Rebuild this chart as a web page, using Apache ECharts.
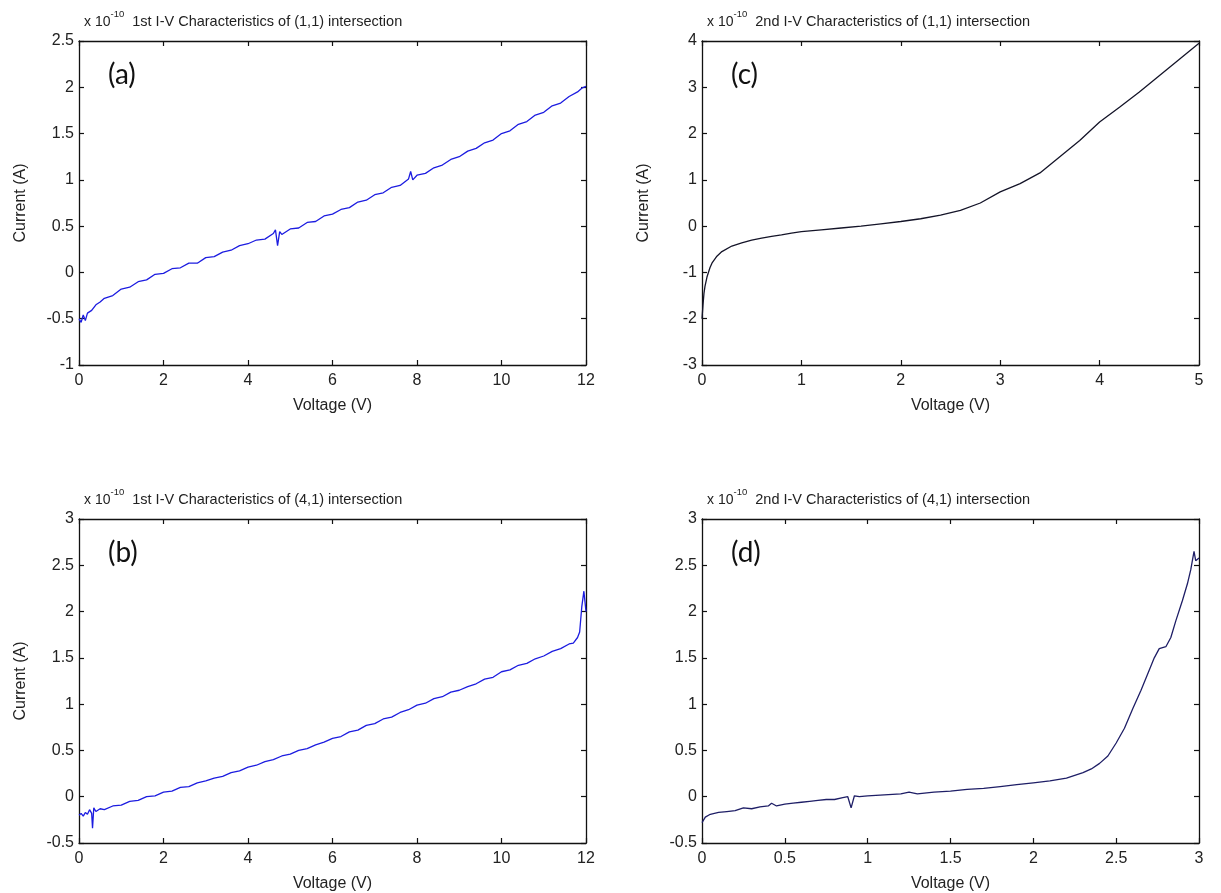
<!DOCTYPE html>
<html>
<head>
<meta charset="utf-8">
<script src="https://cdn.jsdelivr.net/npm/echarts@6/dist/echarts.min.js"></script>
<style>
html,body{margin:0;padding:0;background:#fff;}
#chart{width:1221px;height:893px;}
</style>
</head>
<body>
<div id="chart"></div>
<script>
// ---- Data (current in units of 1e-10 A) ----
const aV = [0,0.05,0.1,0.15,0.2,0.3,0.4,0.5,0.6,0.8,1,1.2,1.4,1.6,1.8,2,2.2,2.4,2.6,2.8,3,3.2,3.4,3.6,3.8,4,4.2,4.4,4.6,4.65,4.7,4.75,4.8,5,5.2,5.4,5.6,5.8,6,6.2,6.4,6.6,6.8,7,7.2,7.4,7.6,7.8,7.85,7.9,8,8.2,8.4,8.6,8.8,9,9.2,9.4,9.6,9.8,10,10.2,10.4,10.6,10.8,11,11.2,11.4,11.6,11.8,11.9,12];
const aI = [-0.50,-0.54,-0.46,-0.52,-0.44,-0.41,-0.35,-0.32,-0.28,-0.25,-0.18,-0.16,-0.10,-0.08,-0.02,-0.01,0.04,0.05,0.10,0.10,0.16,0.17,0.22,0.24,0.29,0.31,0.35,0.36,0.42,0.46,0.29,0.44,0.41,0.47,0.48,0.54,0.55,0.61,0.63,0.68,0.70,0.76,0.78,0.84,0.86,0.92,0.94,1.01,1.09,1.00,1.05,1.07,1.13,1.16,1.22,1.25,1.31,1.34,1.40,1.43,1.50,1.53,1.60,1.63,1.70,1.73,1.80,1.83,1.90,1.95,1.99,2.01];

const bV = [0,0.05,0.1,0.15,0.2,0.25,0.3,0.32,0.35,0.4,0.5,0.6,0.8,1,1.2,1.4,1.6,1.8,2,2.2,2.4,2.6,2.8,3,3.2,3.4,3.6,3.8,4,4.2,4.4,4.6,4.8,5,5.2,5.4,5.6,5.8,6,6.2,6.4,6.6,6.8,7,7.2,7.4,7.6,7.8,8,8.2,8.4,8.6,8.8,9,9.2,9.4,9.6,9.8,10,10.2,10.4,10.6,10.8,11,11.2,11.4,11.6,11.7,11.8,11.85,11.9,11.95,12];
const bI = [-0.20,-0.18,-0.21,-0.17,-0.19,-0.14,-0.18,-0.34,-0.12,-0.16,-0.13,-0.14,-0.10,-0.09,-0.05,-0.04,0.00,0.01,0.05,0.06,0.10,0.11,0.15,0.17,0.20,0.22,0.26,0.28,0.32,0.34,0.38,0.40,0.44,0.46,0.50,0.52,0.56,0.59,0.63,0.65,0.70,0.72,0.77,0.79,0.84,0.86,0.91,0.94,0.99,1.01,1.06,1.08,1.13,1.15,1.19,1.22,1.27,1.29,1.35,1.37,1.42,1.44,1.49,1.52,1.57,1.60,1.65,1.66,1.72,1.78,2.05,2.22,2.00];

const cV = [0,0.01,0.02,0.03,0.05,0.08,0.1,0.15,0.2,0.3,0.4,0.5,0.6,0.7,0.8,0.9,1,1.2,1.4,1.6,1.8,2,2.2,2.4,2.6,2.8,3,3.2,3.4,3.6,3.8,4,4.2,4.4,4.6,4.8,5];
const cI = [-2.0,-1.7,-1.45,-1.3,-1.1,-0.9,-0.8,-0.65,-0.55,-0.43,-0.36,-0.3,-0.26,-0.22,-0.19,-0.15,-0.12,-0.08,-0.04,0.0,0.05,0.1,0.16,0.24,0.34,0.5,0.74,0.92,1.15,1.5,1.85,2.25,2.57,2.9,3.25,3.6,3.95];

const dV = [0,0.02,0.05,0.1,0.15,0.2,0.25,0.3,0.35,0.4,0.42,0.45,0.5,0.55,0.6,0.65,0.7,0.75,0.8,0.85,0.88,0.9,0.92,0.95,1,1.1,1.2,1.25,1.3,1.4,1.5,1.6,1.7,1.8,1.9,2,2.1,2.2,2.3,2.35,2.4,2.45,2.5,2.55,2.6,2.65,2.7,2.73,2.76,2.8,2.83,2.86,2.9,2.93,2.95,2.97,2.98,3];
const dI = [-0.28,-0.22,-0.19,-0.17,-0.16,-0.15,-0.12,-0.13,-0.11,-0.10,-0.07,-0.10,-0.08,-0.07,-0.06,-0.05,-0.04,-0.03,-0.03,-0.01,0.00,-0.12,0.01,0.00,0.01,0.02,0.03,0.05,0.03,0.05,0.06,0.08,0.09,0.11,0.13,0.15,0.17,0.20,0.26,0.30,0.36,0.44,0.58,0.74,0.95,1.15,1.37,1.50,1.60,1.62,1.72,1.90,2.12,2.30,2.45,2.65,2.55,2.58];

const titles = [
  '1st I-V Characteristics of (1,1) intersection',
  '2nd I-V Characteristics of (1,1) intersection',
  '1st I-V Characteristics of (4,1) intersection',
  '2nd I-V Characteristics of (4,1) intersection'
];
const panelTags = ['(a)', '(c)', '(b)', '(d)'];

// x ranges, y ranges per panel (a, c, b, d)
const xRanges = [[0, 12, 2], [0, 5, 1], [0, 12, 2], [0, 3, 0.5]];
const yRanges = [[-1, 2.5, 0.5], [-3, 4, 1], [-0.5, 3, 0.5], [-0.5, 3, 0.5]];
const yNames = ['Current (A)', 'Current (A)', 'Current (A)', ''];
const xName = 'Voltage (V)';

// ---- Layout ----
const grids = [
  {left: 79, top: 41, width: 507, height: 324},
  {left: 702, top: 41, width: 497, height: 324},
  {left: 79, top: 519, width: 507, height: 324},
  {left: 702, top: 519, width: 497, height: 324}
];
const seriesData = [[aV, aI], [cV, cI], [bV, bI], [dV, dI]];
const lineColors = ['#1c1ce0', '#141428', '#1c1ce0', '#1e1e66'];

const FONT = 'Liberation Sans, Arial, sans-serif';
const FS = 16;
const axisLine = {show: true, onZero: false, lineStyle: {color: '#111', width: 1.3}};
const axisTick = {show: true, inside: true, length: 5, lineStyle: {color: '#111', width: 1.2}};

const xAxis = [], yAxis = [], series = [], title = [];
grids.forEach((g, i) => {
  const [xmin, xmax, xint] = xRanges[i];
  const [ymin, ymax, yint] = yRanges[i];
  xAxis.push({
    type: 'value', gridIndex: i, position: 'bottom', min: xmin, max: xmax, interval: xint,
    axisLine, axisTick, splitLine: {show: false},
    axisLabel: {color: '#222', fontSize: FS, fontFamily: FONT, margin: 8, showMinLabel: true, showMaxLabel: true},
    name: xName, nameLocation: 'middle', nameGap: 33,
    nameTextStyle: {color: '#222', fontSize: FS, fontFamily: FONT}
  });
  xAxis.push({
    type: 'value', gridIndex: i, position: 'top', min: xmin, max: xmax, interval: xint,
    axisLine, axisTick, splitLine: {show: false}, axisLabel: {show: false}
  });
  yAxis.push({
    type: 'value', gridIndex: i, position: 'left', min: ymin, max: ymax, interval: yint,
    axisLine, axisTick, splitLine: {show: false},
    axisLabel: {color: '#222', fontSize: FS, fontFamily: FONT, margin: 5, showMinLabel: true, showMaxLabel: true},
    name: yNames[i], nameLocation: 'middle', nameGap: 50,
    nameTextStyle: {color: '#222', fontSize: FS, fontFamily: FONT}
  });
  yAxis.push({
    type: 'value', gridIndex: i, position: 'right', min: ymin, max: ymax, interval: yint,
    axisLine, axisTick, splitLine: {show: false}, axisLabel: {show: false}
  });
  const [vs, is] = seriesData[i];
  series.push({
    type: 'line', xAxisIndex: i * 2, yAxisIndex: i * 2, showSymbol: false, symbol: 'none',
    data: vs.map((v, k) => [v, is[k]]),
    lineStyle: {color: lineColors[i], width: 1.3}, animation: false
  });
  title.push({
    text: '{x|x 10}{s|-10}{t|  ' + titles[i] + '}',
    left: g.left, top: g.top - 37,
    textStyle: {
      fontWeight: 'normal',
      rich: {
        x: {fontSize: 14, fontWeight: 'normal', color: '#222', fontFamily: FONT, lineHeight: 20, verticalAlign: 'bottom'},
        s: {fontSize: 9.5, fontWeight: 'normal', color: '#222', fontFamily: FONT, lineHeight: 20, verticalAlign: 'top'},
        t: {fontSize: 14.5, fontWeight: 'normal', color: '#222', fontFamily: FONT, lineHeight: 20, verticalAlign: 'bottom'}
      }
    }
  });
  title.push({
    text: panelTags[i],
    left: g.left + 24, top: g.top + 15,
    textStyle: {fontSize: 28, fontWeight: 'normal', color: '#111', fontFamily: 'Lato, Open Sans, sans-serif'}
  });
});

const chart = echarts.init(document.getElementById('chart'), null, {renderer: 'canvas'});
chart.setOption({
  backgroundColor: '#fff',
  animation: false,
  title, grid: grids, xAxis, yAxis, series
});
</script>
</body>
</html>
